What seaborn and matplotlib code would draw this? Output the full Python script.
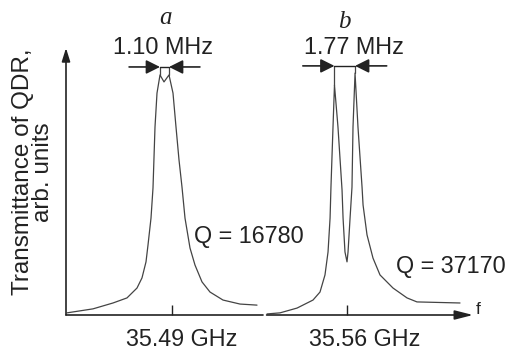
import numpy as np
import pandas as pd
import matplotlib
matplotlib.use("Agg")
import matplotlib.pyplot as plt
import seaborn as sns

# Resonance curves
# frequency offset from the marked centre (MHz), transmittance (arb. units)
freq_a = [-11.55, -8.69, -6.49, -4.95, -3.85, -3.30, -2.86, -2.64, -2.31, -2.09,
          -1.87, -1.65, -1.32, -0.88, -0.33, 0.11, 0.44, 0.77, 1.10, 1.43,
          1.98, 2.53, 3.30, 4.18, 5.61, 7.48, 9.35]
trans_a = [0.008, 0.023, 0.045, 0.064, 0.101, 0.139, 0.199, 0.262, 0.363, 0.476,
           0.704, 0.831, 0.899, 0.873, 0.899, 0.831, 0.704, 0.581, 0.479, 0.363,
           0.251, 0.187, 0.124, 0.086, 0.056, 0.041, 0.037]

freq_b = [-7.08, -5.93, -4.42, -3.01, -2.39, -1.95, -1.68, -1.50, -1.42, -1.24,
          -1.11, -0.80, -0.44, -0.35, -0.18, 0.00, 0.09, 0.27, 0.44, 0.53,
          0.71, 0.97, 1.33, 1.42, 1.77, 2.30, 2.92, 4.07, 5.31, 6.19, 10.0]
trans_b = [0.004, 0.008, 0.026, 0.056, 0.086, 0.150, 0.236, 0.363, 0.480, 0.704,
           0.861, 0.704, 0.468, 0.363, 0.236, 0.199, 0.236, 0.363, 0.479, 0.704,
           0.906, 0.704, 0.479, 0.412, 0.300, 0.213, 0.150, 0.101, 0.064, 0.049, 0.045]

panel_names = ["a", "b"]
centre_labels = ["35.49 GHz", "35.56 GHz"]
q_labels = ["Q = 16780", "Q = 37170"]
width_labels = ["1.10 MHz", "1.77 MHz"]
# peak positions used for the width markers (MHz) and their heights
peaks_a = [-1.32, -0.33]
peaks_b = [-1.11, 0.71]
peak_heights_a = [0.899, 0.899]
peak_heights_b = [0.861, 0.906]

ink = "#222222"
curve_col = "#444444"

sns.set_theme(style="white")
plt.rcParams["font.family"] = ["Liberation Sans", "DejaVu Sans"]

fig = plt.figure(figsize=(5.12, 3.56), dpi=100)
W, H = 512, 356
ax_a = fig.add_axes([66 / W, 41 / H, (263 - 66) / W, 267 / H])
ax_b = fig.add_axes([266 / W, 41 / H, (473 - 266) / W, 267 / H])
ax_a.set_xlim(-11.66, 10.01)
ax_b.set_xlim(-7.17, 11.15)

df_a = pd.DataFrame({"f": freq_a, "T": trans_a})
df_b = pd.DataFrame({"f": freq_b, "T": trans_b})
sns.lineplot(data=df_a, x="f", y="T", ax=ax_a, color=curve_col, lw=0.9,
             estimator=None, sort=False)
sns.lineplot(data=df_b, x="f", y="T", ax=ax_b, color=curve_col, lw=0.9,
             estimator=None, sort=False)

for ax in (ax_a, ax_b):
    ax.set_ylim(0, 1)
    for s in ax.spines.values():
        s.set_visible(False)
    ax.set_xlabel("")
    ax.set_ylabel("")
    ax.set_yticks([])
    ax.set_xticks([0])
    ax.set_xticklabels([""])
    ax.tick_params(axis="x", direction="in", length=7.5, width=1.0, color=ink,
                   bottom=True)
    ax.patch.set_alpha(0)

# axis lines with arrows
ax_a.annotate("", xy=(0, 1), xytext=(0, 0), xycoords="axes fraction",
              arrowprops=dict(arrowstyle="-|>,head_length=0.8,head_width=0.25",
                              mutation_scale=10, lw=1.2, color=ink,
                              shrinkA=0, shrinkB=0))
ax_a.annotate("", xy=(1, 0), xytext=(0, 0), xycoords="axes fraction",
              arrowprops=dict(arrowstyle="-", lw=1.2, color=ink, shrinkA=0, shrinkB=0))
ax_b.annotate("", xy=(1, 0), xytext=(0.003, 0), xycoords="axes fraction",
              arrowprops=dict(arrowstyle="-|>,head_length=1.1,head_width=0.28",
                              mutation_scale=10, lw=1.2, color=ink,
                              shrinkA=0, shrinkB=0))

# width markers
arrow_y = [0.929, 0.933]
for ax, pk, ph, ay, span in ((ax_a, peaks_a, peak_heights_a, arrow_y[0], 3.4),
                             (ax_b, peaks_b, peak_heights_b, arrow_y[1], 2.8)):
    for p, h in zip(pk, ph):
        ax.plot([p, p], [h, ay], color=curve_col, lw=0.9, clip_on=False)
    ax.plot(pk, [ay, ay], color=ink, lw=1.0, clip_on=False)
    ax.annotate("", xy=(pk[0], ay), xytext=(pk[0] - span, ay),
                arrowprops=dict(arrowstyle="-|>,head_length=0.6,head_width=0.3",
                                mutation_scale=14, lw=1.2, color=ink,
                                shrinkA=0, shrinkB=0), annotation_clip=False)
    ax.annotate("", xy=(pk[1], ay), xytext=(pk[1] + span, ay),
                arrowprops=dict(arrowstyle="-|>,head_length=0.6,head_width=0.3",
                                mutation_scale=14, lw=1.2, color=ink,
                                shrinkA=0, shrinkB=0), annotation_clip=False)

fs = 16.8
# texts placed in figure pixel fractions
def ftext(x, y, s, **kw):
    fig.text(x / W, 1 - y / H, s, color=ink, **kw)

ftext(165, 24, panel_names[0], family=["Liberation Serif", "DejaVu Serif"],
      style="italic", fontsize=18, ha="center", va="baseline")
ftext(344, 28, panel_names[1], family=["Liberation Serif", "DejaVu Serif"],
      style="italic", fontsize=18, ha="center", va="baseline")
ftext(163, 48, width_labels[0], fontsize=fs, ha="center", va="center")
ftext(354, 47, width_labels[1], fontsize=fs, ha="center", va="center")
ftext(249, 236, q_labels[0], fontsize=fs, ha="center", va="center")
ftext(451, 267, q_labels[1], fontsize=fs, ha="center", va="center")
ftext(182, 339, centre_labels[0], fontsize=fs, ha="center", va="center")
ftext(365, 339, centre_labels[1], fontsize=fs, ha="center", va="center")
ftext(478, 309, "f", fontsize=12.5, ha="center", va="center")
ftext(33, 172, "Transmittance of QDR,\narb. units", fontsize=17.5, rotation=90,
      ha="center", va="center", multialignment="center", linespacing=0.9)

fig.savefig("out.png", dpi=100)
